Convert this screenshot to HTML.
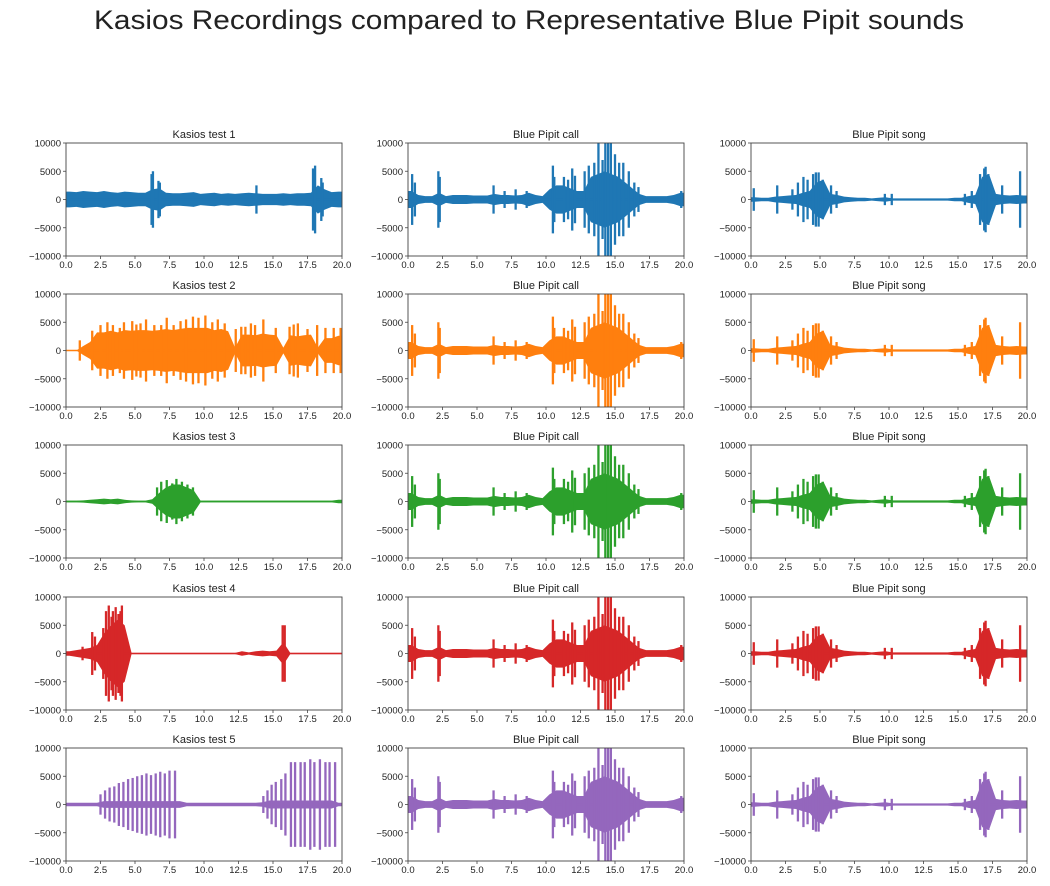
<!DOCTYPE html>
<html><head><meta charset="utf-8"><style>
body{margin:0;background:#fff;}
svg text{font-family:"Liberation Sans","DejaVu Sans",sans-serif;fill:#222;}
</style></head><body>
<svg id="fig" width="1050" height="881" xmlns="http://www.w3.org/2000/svg">
<text x="529" y="29" font-size="27" text-anchor="middle" textLength="870" lengthAdjust="spacingAndGlyphs">Kasios Recordings compared to Representative Blue Pipit sounds</text>
</svg>
<script>
// amplitudes in thousands; base envelope sampled every 0.5 s
const test1Base=[1.4,1.3,1.5,1.4,1.3,1.5,1.3,1.2,1.4,1.3,1.2,1.2,1.8,2.0,1.2,1.1,1.1,1.2,1.3,1.0,1.1,1.2,1.0,1.1,1.0,1.1,1.2,1.1,1.0,1.0,1.0,1.1,1.0,1.1,1.1,1.2,2.5,1.8,1.3,1.4];
const test1SpikeT=[6.2,6.3,6.7,6.8,13.8,17.9,18.05,18.5,18.6];
const test1SpikeA=[4.5,5,3.3,3,2.5,5.5,6,3.8,3];
const test2Base=[0,0,0.8,1.5,3.2,3.2,3.5,3.2,3.6,3.5,3.6,3.6,3.5,3.6,3.8,3.6,3.8,4.0,4.0,4.0,4.0,3.6,3.8,3.4,0.5,2.8,2.8,2.7,3.0,2.8,2.7,0.5,2.7,2.5,2.7,2.8,0.5,2.2,2.2,2.6];
const test2SpikeT=[1.0,1.9,2.5,3.0,3.4,3.9,4.2,4.8,5.1,5.4,5.8,6.4,6.9,7.3,7.8,8.3,8.7,9.2,9.6,10.1,10.6,11.0,11.5,12.3,12.7,13.0,13.4,13.7,14.3,15.2,16.2,16.5,16.8,17.5,18.2,18.8,19.4,19.9];
const test2SpikeA=[1.8,3.5,4.5,5,4.5,4,5,5.2,4.6,4.8,5.5,4.5,4.5,5.8,4.5,5.2,5.5,6,5.8,6.2,5,5.5,4.8,3.8,4.2,4.2,4.8,4.5,5.5,4,4.2,4.6,4.8,3.8,4.5,4,4,4];
const test3Base=[0.15,0.15,0.2,0.3,0.4,0.5,0.4,0.5,0.3,0.2,0.15,0.15,0.4,1.5,2.5,3,3,2.5,2,0.15,0.15,0.15,0.15,0.15,0.15,0.15,0.15,0.15,0.15,0.15,0.15,0.15,0.15,0.15,0.15,0.15,0.15,0.15,0.15,0.3];
const test3SpikeT=[6.6,6.9,7.3,7.7,8.0,8.4,8.8,9.2];
const test3SpikeA=[2.5,3.5,3.8,3.2,4,3.5,3,2.5];
const test4Base=[0.4,0.6,0.8,1.0,1.5,3.5,5,6,5,0.1,0.1,0.1,0.1,0.1,0.1,0.1,0.1,0.1,0.1,0.1,0.1,0.1,0.1,0.1,0.1,0.4,0.2,0.4,0.5,0.4,0.5,2,0.1,0.1,0.1,0.1,0.1,0.1,0.1,0.1];
const test4SpikeT=[1.2,1.9,2.1,2.7,2.9,3.1,3.3,3.4,3.6,3.8,3.95,4.05,15.7,15.85];
const test4SpikeA=[1.2,3.8,3,4.5,7.5,8.5,6.5,7.5,8.2,7,7.5,8.5,5,5];
const test5Base=[0.3,0.3,0.3,0.3,0.3,0.6,0.6,0.6,0.6,0.6,0.6,0.6,0.6,0.6,0.6,0.6,0.6,0.3,0.3,0.3,0.3,0.3,0.3,0.3,0.3,0.3,0.3,0.3,0.4,0.7,0.7,0.7,0.7,0.7,0.7,0.7,0.7,0.7,0.7,0.3];
const test5SpikeT=[2.5,2.83,3.16,3.5,3.83,4.16,4.5,4.83,5.16,5.5,5.83,6.16,6.5,6.83,7.16,7.5,7.9,14.3,14.6,14.9,15.2,15.6,15.9,16.3,16.6,17.0,17.3,17.7,18.0,18.4,18.8,19.1,19.5];
const test5SpikeA=[1.8,2.5,3,3.2,3.8,4,4.5,4.7,5,5.2,5.5,5.2,5.5,5.8,5.5,6,6,1.5,2.5,3.5,4,4.5,5.5,7.5,7.5,7.5,7.5,8,7.5,8,7.5,7.5,7.5];
const callBase=[1.5,0.8,0.6,0.6,1.2,0.6,0.8,0.8,0.8,0.7,0.7,0.7,1.0,0.8,0.8,0.7,0.8,1.2,0.8,0.6,1.8,2.5,2.5,2,1.5,1.5,4,4.5,5,4.5,4,3,2,1,0.6,0.6,0.6,0.6,0.8,1.2];
const callSpikeT=[0.3,0.5,2.2,2.3,6.2,7.0,7.8,8.6,10.5,10.6,11.3,11.6,11.9,12.1,12.8,13.1,13.5,13.8,14.1,14.3,14.5,14.7,15.0,15.3,15.6,16.0,16.4,16.7,19.8];
const callSpikeA=[4.5,3,5,4,2.5,1.5,1.8,1.5,6,4,4,3.5,5.5,4.2,5,6,6.5,10,7,10,10,10,8,6.5,6.5,5,3,2.2,1.5];
const songBase=[0.4,0.3,0.3,0.5,0.6,0.7,0.8,1.2,1.5,3,3.5,1.0,0.8,0.5,0.4,0.3,0.3,0.2,0.3,0.4,0.2,0.2,0.2,0.2,0.2,0.2,0.2,0.2,0.2,0.3,0.3,0.6,0.8,4,4.5,1.0,0.8,0.7,0.8,0.7];
const songSpikeT=[0.2,1.9,3.0,3.4,3.8,4.1,4.5,4.7,4.9,5.2,5.8,6.2,9.7,10.2,15.5,16.0,16.6,16.9,17.0,17.2,18.2,19.5];
const songSpikeA=[2,2.5,1.8,3,4,3.5,4.5,4.8,4.8,3.5,2.5,1.5,1,1,1,1.5,4.5,5.5,5.8,4.5,2.5,5];

const xTicks=[0,2.5,5,7.5,10,12.5,15,17.5,20];
const yTicks=[10000,5000,0,-5000,-10000];
const colors=['#1f77b4','#ff7f0e','#2ca02c','#d62728','#9467bd'];
const tests=[[test1Base,test1SpikeT,test1SpikeA],[test2Base,test2SpikeT,test2SpikeA],[test3Base,test3SpikeT,test3SpikeA],[test4Base,test4SpikeT,test4SpikeA],[test5Base,test5SpikeT,test5SpikeA]];

const NS='http://www.w3.org/2000/svg';
const svg=document.getElementById('fig');
function mk(tag,attrs,parent){const e=document.createElementNS(NS,tag);for(const k in attrs)e.setAttribute(k,attrs[k]);(parent||svg).appendChild(e);return e;}
const colX=[66,408,751], W=276, H=113;
const rowY=[143,294,445,597,748];
let clipId=0;
function panel(px,py,title,base,st,sa,color,key){
  const g=mk('g',{});
  
  
  const sx=t=>px+t/20*W, sy=v=>py+H/2-v/20*H;
  const id='c'+(clipId++);
  const cp=mk('clipPath',{id:id},g);mk('rect',{x:px,y:py,width:W,height:H},cp);
  const dg=mk('g',{'clip-path':'url(#'+id+')'},g);
  let up=[],dn=[];
  up.push(sx(0)+','+sy(base[0]));
  base.forEach((a,i)=>{up.push(sx(i*0.5+0.25)+','+sy(a));});
  up.push(sx(20)+','+sy(base[base.length-1]));
  for(let i=up.length-1;i>=0;i--){const p=up[i].split(',');const v=(H/2+py)-parseFloat(p[1]);dn.push(p[0]+','+(py+H/2+v));}
  const env=mk('polygon',{points:up.concat(dn).join(' '),fill:color},dg);
  
  
  mk('line',{x1:px,x2:px+W,y1:sy(0),y2:sy(0),stroke:color,'stroke-width':1.5},dg);
  st.forEach((t,i)=>{
    const l=mk('line',{x1:sx(t),x2:sx(t),y1:sy(sa[i]),y2:sy(-sa[i]),stroke:color,'stroke-width':2.3},dg);
    
    
  });
  const fr=mk('rect',{x:px,y:py,width:W,height:H,fill:'none',stroke:'#444','stroke-width':0.9},g);
  
  
  xTicks.forEach(t=>{
    mk('line',{x1:sx(t),x2:sx(t),y1:py+H,y2:py+H+3,stroke:'#444','stroke-width':0.8},g);
    const tx=mk('text',{x:sx(t),y:py+H+12,'font-size':9.5,'text-anchor':'middle'},g);
    tx.textContent=t.toFixed(1);
    
    
  });
  yTicks.forEach(v=>{
    const y=sy(v/1000);
    mk('line',{x1:px-3,x2:px,y1:y,y2:y,stroke:'#444','stroke-width':0.8},g);
    const tx=mk('text',{x:px-5,y:y+3.5,'font-size':9.5,'text-anchor':'end'},g);
    tx.textContent=String(v).replace('-','\u2212');
    
    
  });
  const tt=mk('text',{x:px+W/2,y:py-5,'font-size':11,'text-anchor':'middle'},g);
  tt.textContent=title;
  
  
}
for(let r=0;r<5;r++){
  panel(colX[0],rowY[r],'Kasios test '+(r+1),tests[r][0],tests[r][1],tests[r][2],colors[r],'kasios-test-'+(r+1));
  panel(colX[1],rowY[r],'Blue Pipit call',callBase,callSpikeT,callSpikeA,colors[r],'pipit-call-'+(r+1));
  panel(colX[2],rowY[r],'Blue Pipit song',songBase,songSpikeT,songSpikeA,colors[r],'pipit-song-'+(r+1));
}
</script>
</body></html>
